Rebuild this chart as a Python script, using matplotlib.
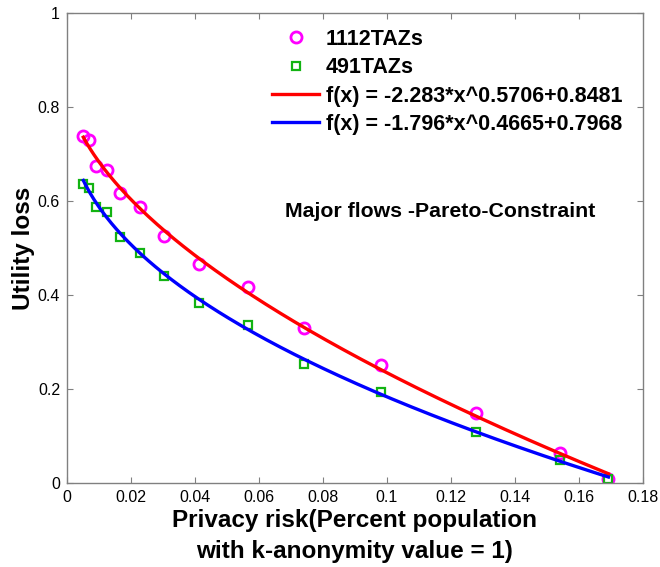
import numpy as np
import matplotlib
matplotlib.use("Agg")
import matplotlib.pyplot as plt

# ---- data ----
privacy_risk = [0.0051, 0.0069, 0.0091, 0.0124, 0.0166, 0.0229, 0.0304,
                0.0413, 0.0565, 0.0740, 0.0980, 0.1277, 0.1541, 0.1692]
loss_1112 = [0.738, 0.730, 0.675, 0.666, 0.618, 0.588, 0.526,
             0.467, 0.417, 0.330, 0.251, 0.148, 0.0645, 0.008]
loss_491 = [0.637, 0.628, 0.587, 0.577, 0.523, 0.490, 0.441,
            0.384, 0.336, 0.254, 0.194, 0.109, 0.049, 0.008]

# fitted power models f(x) = a*x^b + c (coefficients from the legend)
fit_1112 = (-2.283, 0.5706, 0.8481)
fit_491 = (-1.796, 0.4665, 0.7968)

series_labels = ["1112TAZs", "491TAZs"]
fit_labels = ["f(x) = -2.283*x^0.5706+0.8481", "f(x) = -1.796*x^0.4665+0.7968"]
x_ticks = [0, 0.02, 0.04, 0.06, 0.08, 0.1, 0.12, 0.14, 0.16, 0.18]
x_tick_labels = ["0", "0.02", "0.04", "0.06", "0.08", "0.1", "0.12", "0.14", "0.16", "0.18"]
y_ticks = [0, 0.2, 0.4, 0.6, 0.8, 1]
y_tick_labels = ["0", "0.2", "0.4", "0.6", "0.8", "1"]

plt.rcParams['font.family'] = ['Liberation Sans', 'DejaVu Sans']

fig = plt.figure(figsize=(6.6, 5.67), dpi=100)
ax = fig.add_axes([67/660, 84/567, 576/660, 470/567])

ax.plot(privacy_risk, loss_1112, linestyle='none', marker='o', markersize=8,
        markerfacecolor='none', markeredgecolor='#FF00FF', markeredgewidth=2.0,
        label=series_labels[0], zorder=2)
ax.plot(privacy_risk, loss_491, linestyle='none', marker='s', markersize=5.5,
        markerfacecolor='none', markeredgecolor='#12B312', markeredgewidth=1.6,
        label=series_labels[1], zorder=2)

xf = np.linspace(min(privacy_risk), max(privacy_risk), 300)
a, b, c = fit_1112
ax.plot(xf, a * xf**b + c, color='#FF0000', linewidth=2.4, label=fit_labels[0], zorder=3)
a, b, c = fit_491
ax.plot(xf, a * xf**b + c, color='#0000FF', linewidth=2.4, label=fit_labels[1], zorder=3)

ax.set_xlim(0, 0.18)
ax.set_ylim(0, 1)
ax.set_xticks(x_ticks)
ax.set_xticklabels(x_tick_labels)
ax.set_yticks(y_ticks)
ax.set_yticklabels(y_tick_labels)

ax.tick_params(direction='in', length=4, width=0.8, color='#808080',
               labelsize=11.5, labelcolor='black', top=True, right=True, pad=5)
for s in ax.spines.values():
    s.set_color('#808080')
    s.set_linewidth(1.0)

ax.set_xlabel("Privacy risk(Percent population\nwith k-anonymity value = 1)",
              fontsize=17.5, fontweight='bold', linespacing=1.45, labelpad=3)
ax.set_ylabel("Utility loss", fontsize=17.5, fontweight='bold', labelpad=2)

ax.text(285/660, 1 - 217/567, "Major flows -Pareto-Constraint",
        transform=fig.transFigure, fontsize=15.3, fontweight='bold',
        ha='left', va='baseline')

leg = ax.legend(loc='upper left', bbox_to_anchor=(272/660, 1 - 29/567),
                bbox_transform=fig.transFigure, frameon=False,
                prop={'weight': 'bold', 'size': 15.5},
                handlelength=2.2, handletextpad=0.3, labelspacing=0.34,
                borderpad=0, borderaxespad=0)

fig.savefig("out.png", dpi=100, facecolor='white')
